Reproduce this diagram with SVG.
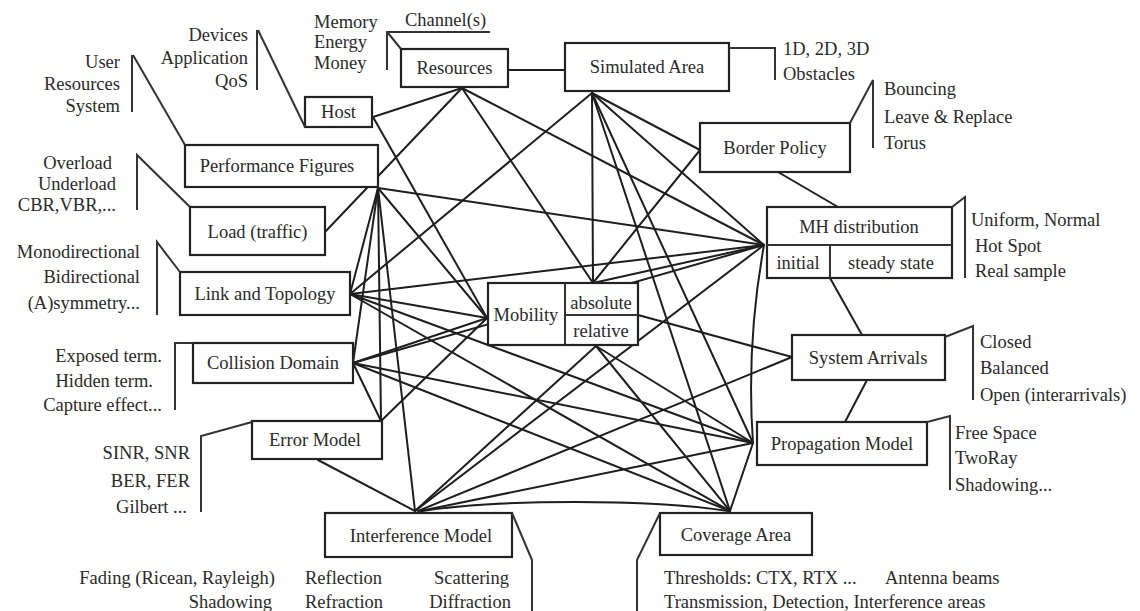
<svg xmlns="http://www.w3.org/2000/svg" width="1140" height="611" viewBox="0 0 1140 611">
<style>
.box{fill:#fff;stroke:#222;stroke-width:2.2}
.ln{fill:none;stroke:#1e1e1e;stroke-width:2;stroke-linecap:round}
.br{fill:none;stroke:#333;stroke-width:2}
text{font-family:"Liberation Serif","Times New Roman",serif;font-size:18.5px;fill:#2a2a2a}
.c{text-anchor:middle}
.r{text-anchor:end}
</style>
<rect width="1140" height="611" fill="#fff"/>
<g id="connectors">
<line class="ln" x1="508" y1="70" x2="565" y2="70"/>
<line class="ln" x1="373" y1="117" x2="462" y2="88"/>
<line class="ln" x1="373" y1="117" x2="487" y2="318"/>
<line class="ln" x1="325" y1="232" x2="462" y2="88"/>
<line class="ln" x1="378" y1="188" x2="764" y2="245"/>
<line class="ln" x1="378" y1="188" x2="487" y2="318"/>
<line class="ln" x1="378" y1="188" x2="350" y2="294"/>
<line class="ln" x1="378" y1="188" x2="353" y2="363"/>
<line class="ln" x1="378" y1="188" x2="381" y2="421"/>
<line class="ln" x1="378" y1="188" x2="415" y2="511"/>
<line class="ln" x1="462" y1="88" x2="593" y2="283"/>
<line class="ln" x1="462" y1="88" x2="764" y2="245"/>
<line class="ln" x1="592" y1="93" x2="593" y2="283"/>
<line class="ln" x1="592" y1="93" x2="700" y2="150"/>
<line class="ln" x1="592" y1="93" x2="764" y2="245"/>
<line class="ln" x1="592" y1="93" x2="753" y2="443"/>
<line class="ln" x1="592" y1="93" x2="730" y2="511"/>
<line class="ln" x1="592" y1="93" x2="350" y2="294"/>
<line class="ln" x1="700" y1="150" x2="593" y2="283"/>
<line class="ln" x1="593" y1="283" x2="764" y2="245"/>
<line class="ln" x1="778" y1="172" x2="838" y2="207"/>
<line class="ln" x1="350" y1="294" x2="487" y2="318"/>
<line class="ln" x1="350" y1="294" x2="764" y2="245"/>
<line class="ln" x1="350" y1="294" x2="753" y2="443"/>
<line class="ln" x1="350" y1="294" x2="730" y2="511"/>
<line class="ln" x1="353" y1="363" x2="487" y2="318"/>
<line class="ln" x1="353" y1="363" x2="764" y2="245"/>
<line class="ln" x1="353" y1="363" x2="753" y2="443"/>
<line class="ln" x1="353" y1="363" x2="730" y2="511"/>
<line class="ln" x1="353" y1="363" x2="381" y2="421"/>
<line class="ln" x1="381" y1="421" x2="487" y2="318"/>
<line class="ln" x1="318" y1="460" x2="415" y2="511"/>
<line class="ln" x1="415" y1="511" x2="596" y2="346"/>
<line class="ln" x1="415" y1="511" x2="764" y2="245"/>
<line class="ln" x1="418" y1="511" x2="792" y2="357"/>
<line class="ln" x1="420" y1="511" x2="753" y2="443"/>
<path class="ln" d="M422,511 C500,499 650,499 728,511"/>
<line class="ln" x1="596" y1="346" x2="730" y2="511"/>
<line class="ln" x1="596" y1="346" x2="753" y2="443"/>
<line class="ln" x1="638" y1="315" x2="792" y2="357"/>
<path class="ln" d="M764,245 Q746,345 753,443"/>
<line class="ln" x1="753" y1="443" x2="730" y2="511"/>
<line class="ln" x1="830" y1="278" x2="862" y2="335"/>
<line class="ln" x1="867" y1="380" x2="845" y2="422"/>
</g>
<g id="host">
<rect class="box" x="305" y="97" width="67" height="30"/>
<text class="c" x="338.5" y="118">Host</text>
<polyline class="br" points="305,127 258,30"/>
<line class="br" x1="257" y1="30" x2="257" y2="90"/>
<text class="r" x="248" y="41">Devices</text>
<text class="r" x="248" y="64">Application</text>
<text class="r" x="248" y="87">QoS</text>
</g>
<g id="resources">
<rect class="box" x="401" y="49" width="107" height="38"/>
<text class="c" x="454.5" y="74">Resources</text>
<polyline class="br" points="490,32 387,32 387,70"/>
<line class="br" x1="388" y1="33" x2="401" y2="49"/>
<text x="314" y="28">Memory</text>
<text x="314" y="48">Energy</text>
<text x="314" y="69">Money</text>
<text x="405" y="26">Channel(s)</text>
</g>
<g id="simulated-area">
<rect class="box" x="565" y="43" width="164" height="48"/>
<text class="c" x="647" y="73">Simulated Area</text>
<polyline class="br" points="729,48 775,48 775,80"/>
<text x="783" y="55">1D, 2D, 3D</text>
<text x="783" y="80">Obstacles</text>
</g>
<g id="border-policy">
<rect class="box" x="700" y="123" width="150" height="49"/>
<text class="c" x="775" y="154">Border Policy</text>
<polyline class="br" points="850,123 873,80 873,148"/>
<text x="884" y="95">Bouncing</text>
<text x="884" y="123">Leave &amp; Replace</text>
<text x="884" y="149">Torus</text>
</g>
<g id="mh-distribution">
<rect class="box" x="767" y="207" width="185" height="71"/>
<line class="br" x1="767" y1="245" x2="952" y2="245"/>
<line class="br" x1="830" y1="245" x2="830" y2="278"/>
<text class="c" x="859" y="233">MH distribution</text>
<text class="c" x="798" y="269">initial</text>
<text class="c" x="891" y="269">steady state</text>
<polyline class="br" points="952,207 965,197 965,278"/>
<text x="971" y="226">Uniform, Normal</text>
<text x="975" y="252">Hot Spot</text>
<text x="975" y="277">Real sample</text>
</g>
<g id="performance-figures">
<rect class="box" x="185" y="145" width="193" height="42"/>
<text class="c" x="277" y="172">Performance Figures</text>
<polyline class="br" points="185,145 133,55"/>
<line class="br" x1="132" y1="55" x2="132" y2="112"/>
<text class="r" x="120" y="68">User</text>
<text class="r" x="120" y="90">Resources</text>
<text class="r" x="120" y="112">System</text>
</g>
<g id="load">
<rect class="box" x="190" y="207" width="135" height="48"/>
<text class="c" x="257.5" y="238">Load (traffic)</text>
<polyline class="br" points="190,207 137,155 137,210"/>
<text class="r" x="112" y="169">Overload</text>
<text class="r" x="116" y="190">Underload</text>
<text class="r" x="116" y="211">CBR,VBR,...</text>
</g>
<g id="link-topology">
<rect class="box" x="180" y="272" width="170" height="43"/>
<text class="c" x="265" y="300">Link and Topology</text>
<polyline class="br" points="180,272 157,242 157,315"/>
<text class="r" x="140" y="258">Monodirectional</text>
<text class="r" x="140" y="283">Bidirectional</text>
<text class="r" x="140" y="309">(A)symmetry...</text>
</g>
<g id="collision-domain">
<rect class="box" x="193" y="343" width="160" height="40"/>
<text class="c" x="273" y="369">Collision Domain</text>
<polyline class="br" points="193,343 175,343 175,410"/>
<text class="r" x="162" y="362">Exposed term.</text>
<text class="r" x="153" y="387">Hidden term.</text>
<text class="r" x="162" y="411">Capture effect...</text>
</g>
<g id="error-model">
<rect class="box" x="252" y="421" width="130" height="38"/>
<text class="c" x="315" y="446">Error Model</text>
<polyline class="br" points="252,422 201,436 201,512"/>
<text class="r" x="190" y="459">SINR, SNR</text>
<text class="r" x="190" y="487">BER, FER</text>
<text class="r" x="187" y="513">Gilbert ...</text>
</g>
<g id="mobility">
<rect class="box" x="488" y="283" width="150" height="62"/>
<line class="br" x1="565" y1="283" x2="565" y2="345"/>
<line class="br" x1="565" y1="315" x2="638" y2="315"/>
<text class="c" x="526" y="321">Mobility</text>
<text class="c" x="601" y="309">absolute</text>
<text class="c" x="601" y="337">relative</text>
</g>
<g id="system-arrivals">
<rect class="box" x="792" y="335" width="153" height="45"/>
<text class="c" x="868" y="364">System Arrivals</text>
<polyline class="br" points="945,337 973,326 973,400"/>
<text x="980" y="348">Closed</text>
<text x="980" y="374">Balanced</text>
<text x="980" y="401">Open (interarrivals)</text>
</g>
<g id="propagation-model">
<rect class="box" x="757" y="422" width="170" height="43"/>
<text class="c" x="842" y="450">Propagation Model</text>
<polyline class="br" points="927,422 950,416 950,490"/>
<text x="955" y="439">Free Space</text>
<text x="955" y="464">TwoRay</text>
<text x="955" y="491">Shadowing...</text>
</g>
<g id="interference-model">
<rect class="box" x="325" y="513" width="187" height="44"/>
<text class="c" x="421" y="542">Interference Model</text>
<polyline class="br" points="512,513 532,560 532,611"/>
<text class="r" x="275" y="584">Fading (Ricean, Rayleigh)</text>
<text class="r" x="272" y="608">Shadowing</text>
<text x="305" y="584">Reflection</text>
<text x="305" y="608">Refraction</text>
<text class="r" x="509" y="584">Scattering</text>
<text class="r" x="511" y="608">Diffraction</text>
</g>
<g id="coverage-area">
<rect class="box" x="660" y="513" width="152" height="42"/>
<text class="c" x="736" y="541">Coverage Area</text>
<polyline class="br" points="660,513 637,560 637,611"/>
<text x="664" y="584">Thresholds: CTX, RTX ...</text>
<text x="885" y="584">Antenna beams</text>
<text x="664" y="608">Transmission, Detection, Interference areas</text>
</g>
</svg>
